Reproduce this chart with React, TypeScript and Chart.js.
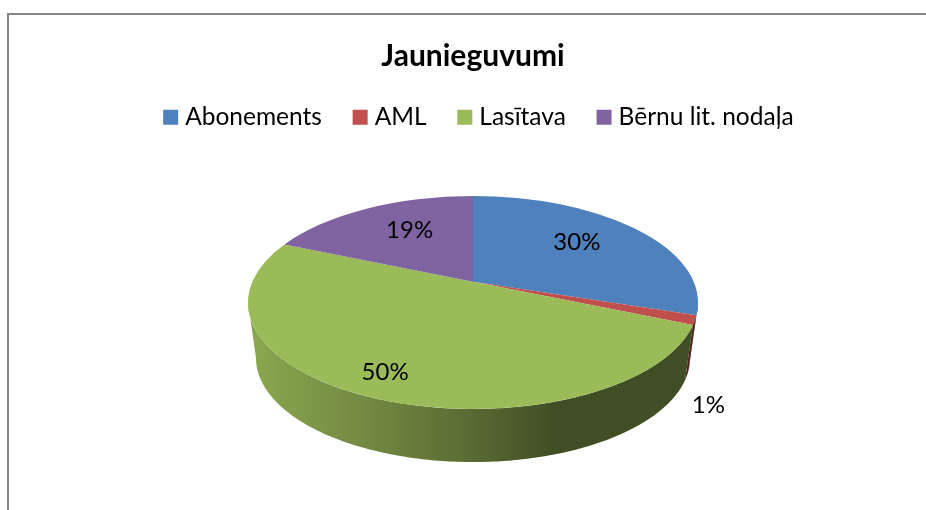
import React, { useEffect, useRef } from "react";
import { Chart, registerables } from "chart.js";

Chart.register(...registerables);

const categories = ["Abonements", "AML", "Lasītava", "Bērnu lit. nodaļa"];
const values = [30, 1.4, 50, 18.6];
const colors = ["#4F81BD", "#C0504D", "#9BBB59", "#8064A2"];
const titleText = "Jaunieguvumi";

const W = 926;
const H = 510;
const FONT = "Lato, Carlito, sans-serif";
const TOP = { cx: 473, cy: 302.5, rx: 225, ry: 106.5 };
const BOTTOM = { cx: 473, cy: 358, rx: 217, ry: 104 };
const PERSPECTIVE = 0.82;
const LABEL_RADIUS = 0.73;
const LEGEND_DX = 8;
const LEGEND_DY = -5;
const LABEL_NUDGE = [
  [-13, -6],
  [20, 35],
  [-11, 1],
  [13, -3],
];

// phi: clockwise from 12 o'clock. Projective map of a circle tilted away from the viewer.
const warp = (phi: number) =>
  2 * Math.atan2(PERSPECTIVE * Math.sin(phi / 2), Math.cos(phi / 2));
const toPhi = (a: number) => a + Math.PI / 2;
const toAngle = (p: number) => p - Math.PI / 2;
const onEllipse = (e: typeof TOP, phi: number, k = 1) => ({
  x: e.cx + e.rx * k * Math.sin(phi),
  y: e.cy - e.ry * k * Math.cos(phi),
});
// The image of the circle's centre: where all slice edges meet.
const APEX_Y = TOP.cy - TOP.ry * Math.cos(warp(Math.PI / 2));

const pie3d = {
  id: "pie3d",
  afterLayout(chart: any) {
    const l = chart.legend;
    l.left += LEGEND_DX;
    l.right += LEGEND_DX;
    l.top += LEGEND_DY;
    l.bottom += LEGEND_DY;
  },
  beforeDraw(chart: any) {
    const c = chart.ctx;
    c.save();
    c.fillStyle = "#ffffff";
    c.fillRect(0, 0, W, H);
    c.fillStyle = "#868686";
    c.fillRect(7, 13, W - 7, 2);
    c.fillRect(7, 13, 2, H - 13);
    c.restore();
  },
  afterDatasetsUpdate(chart: any) {
    const meta = chart.getDatasetMeta(0);
    meta.data.forEach((arc: any) => {
      const s = warp(toPhi(arc.startAngle));
      const e = warp(toPhi(arc.endAngle));
      arc.$trueMid = (toPhi(arc.startAngle) + toPhi(arc.endAngle)) / 2;
      arc.startAngle = toAngle(s);
      arc.endAngle = toAngle(e);
      arc.circumference = e - s;
      arc.draw = function (ctx: CanvasRenderingContext2D) {
        ctx.save();
        ctx.beginPath();
        ctx.moveTo(TOP.cx, APEX_Y);
        ctx.ellipse(TOP.cx, TOP.cy, TOP.rx, TOP.ry, 0, this.startAngle, this.endAngle);
        ctx.closePath();
        ctx.fillStyle = this.options.backgroundColor;
        ctx.fill();
        ctx.restore();
      };
    });
  },
  beforeDatasetsDraw(chart: any) {
    const c = chart.ctx;
    const meta = chart.getDatasetMeta(0);
    const left = TOP.cx - TOP.rx;
    const shade = c.createLinearGradient(left, 0, TOP.cx + TOP.rx, 0);
    shade.addColorStop(0, "rgba(0,0,0,0.1)");
    shade.addColorStop(0.27, "rgba(0,0,0,0.27)");
    shade.addColorStop(0.5, "rgba(0,0,0,0.43)");
    shade.addColorStop(0.68, "rgba(0,0,0,0.58)");
    shade.addColorStop(1, "rgba(0,0,0,0.58)");
    meta.data.forEach((arc: any, i: number) => {
      const a = Math.max(toPhi(arc.startAngle), Math.PI / 2);
      const b = Math.min(toPhi(arc.endAngle), (3 * Math.PI) / 2);
      if (b <= a) return;
      const n = Math.max(2, Math.ceil((b - a) * 60));
      c.beginPath();
      for (let k = 0; k <= n; k++) {
        const p = onEllipse(TOP, a + ((b - a) * k) / n);
        if (k === 0) c.moveTo(p.x, p.y);
        else c.lineTo(p.x, p.y);
      }
      for (let k = n; k >= 0; k--) {
        const p = onEllipse(BOTTOM, a + ((b - a) * k) / n);
        c.lineTo(p.x, p.y);
      }
      c.closePath();
      c.fillStyle = colors[i];
      c.fill();
      c.fillStyle = shade;
      c.fill();
    });
  },
  afterDatasetsDraw(chart: any) {
    const c = chart.ctx;
    const meta = chart.getDatasetMeta(0);
    const total = values.reduce((s, v) => s + v, 0);
    c.save();
    c.font = `24px ${FONT}`;
    c.fillStyle = "#000000";
    c.textAlign = "center";
    c.textBaseline = "middle";
    meta.data.forEach((arc: any, i: number) => {
      const p = onEllipse(TOP, warp(arc.$trueMid), LABEL_RADIUS);
      const outside = values[i] / total < 0.05;
      const base = outside ? onEllipse(BOTTOM, toPhi(arc.startAngle)) : p;
      c.fillText(
        `${Math.round((values[i] / total) * 100)}%`,
        base.x + LABEL_NUDGE[i][0],
        base.y + LABEL_NUDGE[i][1]
      );
    });
    c.restore();
  },
};

export default function App() {
  const ref = useRef<HTMLCanvasElement | null>(null);
  useEffect(() => {
    if (!ref.current) return;
    const chart = new Chart(ref.current, {
      type: "pie",
      data: {
        labels: categories,
        datasets: [
          {
            data: values,
            backgroundColor: colors,
            borderWidth: 0,
            clip: false,
          } as any,
        ],
      },
      plugins: [pie3d],
      options: {
        responsive: false,
        animation: false,
        layout: { padding: { left: 20, top: 0 } },
        plugins: {
          tooltip: { enabled: false },
          title: {
            display: true,
            text: titleText,
            color: "#000000",
            font: { family: FONT, size: 30, weight: "bold" },
            padding: { top: 38, bottom: 0 },
          },
          legend: {
            display: true,
            position: "top",
            labels: {
              boxWidth: 4.5,
              boxHeight: 4.5,
              padding: 36,
              color: "#000000",
              font: { family: FONT, size: 24.5 },
              generateLabels: () =>
                categories.map((text, i) => ({
                  text,
                  fillStyle: colors[i],
                  strokeStyle: colors[i],
                  lineWidth: 10.5,
                  hidden: false,
                  index: i,
                })),
            },
          },
        },
      },
    } as any);
    return () => chart.destroy();
  }, []);
  return (
    <canvas
      ref={ref}
      width={W}
      height={H}
      style={{ position: "fixed", left: 0, top: 0, display: "block", width: W, height: H }}
    />
  );
}
